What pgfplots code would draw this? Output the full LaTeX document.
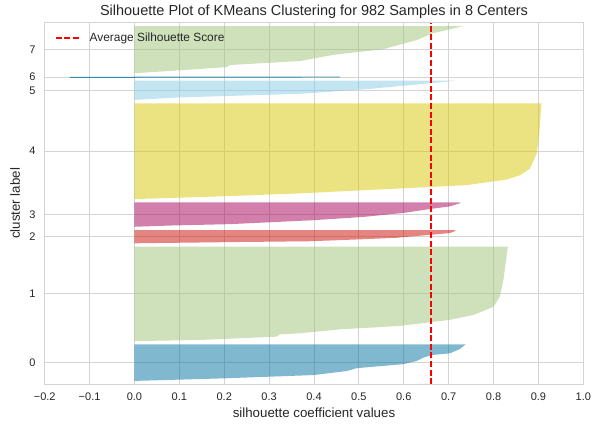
\documentclass[border=0pt]{standalone}
\usepackage{fontspec}
\setmainfont{Liberation Sans}
\usepackage{pgfplots}
\pgfplotsset{compat=1.18}
\definecolor{ybblue}{HTML}{0272A2}
\definecolor{ybgreen}{HTML}{9FC377}
\definecolor{ybred}{HTML}{CA0B03}
\definecolor{ybmag}{HTML}{A50258}
\definecolor{ybyellow}{HTML}{D7C703}
\definecolor{yblight}{HTML}{88CCE6}
\definecolor{gridgray}{RGB}{212,212,212}
\definecolor{textgray}{RGB}{38,38,38}
\begin{document}
\begin{tikzpicture}[x=1pt,y=1pt]
\useasboundingbox (0,0) rectangle (592,425);
\begin{axis}[
  at={(44.7pt,40.7pt)}, anchor=south west,
  width=538.6pt, height=361.6pt, scale only axis,
  xmin=-0.2, xmax=1.0, ymin=0, ymax=1072,
  xtick={-0.2,-0.1,0,0.1,0.2,0.3,0.4,0.5,0.6,0.7,0.8,0.9,1.0},
  xticklabels={−0.2,−0.1,0.0,0.1,0.2,0.3,0.4,0.5,0.6,0.7,0.8,0.9,1.0},
  ytick={64,268,437.5,503,691,871.5,911,992},
  yticklabels={0,1,2,3,4,5,6,7},
  grid=major,
  major grid style={color=gridgray, line width=0.9pt},
  axis line style={color=gridgray, line width=1.1pt},
  major tick length=0pt,
  tick label style={font=\fontsize{11}{13}\selectfont, text=textgray},
  xticklabel style={anchor=base, inner sep=0pt, yshift=-16.7pt},
  yticklabel style={anchor=east, inner sep=0pt, xshift=-9pt},
  every axis title shift=0pt,
  title={Silhouette Plot of KMeans Clustering for 982 Samples in 8 Centers},
  title style={at={([yshift=7.5pt]axis description cs:0.5,1)}, anchor=base, inner sep=0pt, font=\fontsize{14.5}{17}\selectfont, text=textgray},
  xlabel={silhouette coefficient values},
  xlabel style={at={([yshift=-33.7pt]axis description cs:0.5,0)}, anchor=base, inner sep=0pt, font=\fontsize{13.3}{16}\selectfont, text=textgray},
  ylabel={cluster label},
  ylabel style={at={([xshift=-24.7pt]axis description cs:0,0.5)}, rotate=0, anchor=base, inner sep=0pt, font=\fontsize{13.3}{16}\selectfont, text=textgray},
  legend style={draw=none, fill=none, inner sep=0pt, at={(rel axis cs:0,1)}, anchor=west, xshift=10pt, yshift=-15pt,
    font=\fontsize{11.9}{14}\selectfont, text=textgray,
    /tikz/every even column/.append style={column sep=0pt},
    /tikz/every odd column/.append style={column sep=7pt}},
  legend image code/.code={\draw[#1] (0pt,0pt) -- (24pt,0pt);},
  legend cell align=left,
]
% cluster 0
\addplot[fill=ybblue, fill opacity=0.5, draw=none, forget plot] coordinates {
(0,10) (0.198,17.6) (0.398,27.3) (0.473,39.2) (0.495,47.8) (0.599,59.7) (0.629,69.1) (0.643,78.8) (0.662,86.7) (0.703,91.9) (0.725,104.6) (0.736,116.5) (0.738,118) (0,118)} -- cycle;
% cluster 1
\addplot[fill=ybgreen, fill opacity=0.5, draw=none, forget plot] coordinates {
(0,128) (0.146,131.4) (0.317,141.2) (0.324,148.2) (0.369,151.2) (0.458,163) (0.59,172.8) (0.70,190.7) (0.755,205.3) (0.80,229.9) (0.814,259.6) (0.822,309.2) (0.829,378.3) (0.832,408) (0,408)} -- cycle;
% cluster 2
\addplot[fill=ybred, fill opacity=0.5, draw=none, forget plot] coordinates {
(0,418) (0.213,421.5) (0.391,424.1) (0.51,430.1) (0.584,434.4) (0.658,443) (0.703,448.4) (0.714,454.3) (0.715,457) (0,457)} -- cycle;
% cluster 3
\addplot[fill=ybmag, fill opacity=0.5, draw=none, forget plot] coordinates {
(0,467) (0.086,470.9) (0.213,474.8) (0.398,486.4) (0.51,496.2) (0.599,508) (0.658,519.6) (0.703,527.5) (0.725,536.8) (0.726,539) (0,539)} -- cycle;
% cluster 4
\addplot[fill=ybyellow, fill opacity=0.5, draw=none, forget plot] coordinates {
(0,549) (0.2,557.5) (0.369,566) (0.517,575.7) (0.665,585.4) (0.74,590.5) (0.829,606.9) (0.859,619.7) (0.881,639.3) (0.896,683.3) (0.902,742.1) (0.905,801.8) (0.907,833) (0,833)} -- cycle;
% cluster 5
\addplot[fill=yblight, fill opacity=0.5, draw=none, forget plot] coordinates {
(0,843) (0.1,850.4) (0.369,861.2) (0.517,874.9) (0.628,888.6) (0.695,897.2) (0.714,900) (0,900)} -- cycle;
% cluster 6
\addplot[ybblue, line width=0.9pt, draw opacity=0.75, fill=ybblue, fill opacity=0.5, forget plot] coordinates {
(0,910) (-0.144,910) (0.458,911) (0,911)} -- cycle;
% cluster 7
\addplot[fill=ybgreen, fill opacity=0.5, draw=none, forget plot] coordinates {
(0,922) (0.205,940.2) (0.213,946.6) (0.369,958.4) (0.443,976.6) (0.554,993.4) (0.628,1020) (0.665,1041) (0.703,1052.2) (0.732,1062) (0,1062)} -- cycle;
% average
\addplot[red, line width=1.8pt, dash pattern=on 6pt off 2.6pt] coordinates {(0.66,0) (0.66,1072)};
\addlegendentry{Average Silhouette Score}
\end{axis}
\end{tikzpicture}
\end{document}
